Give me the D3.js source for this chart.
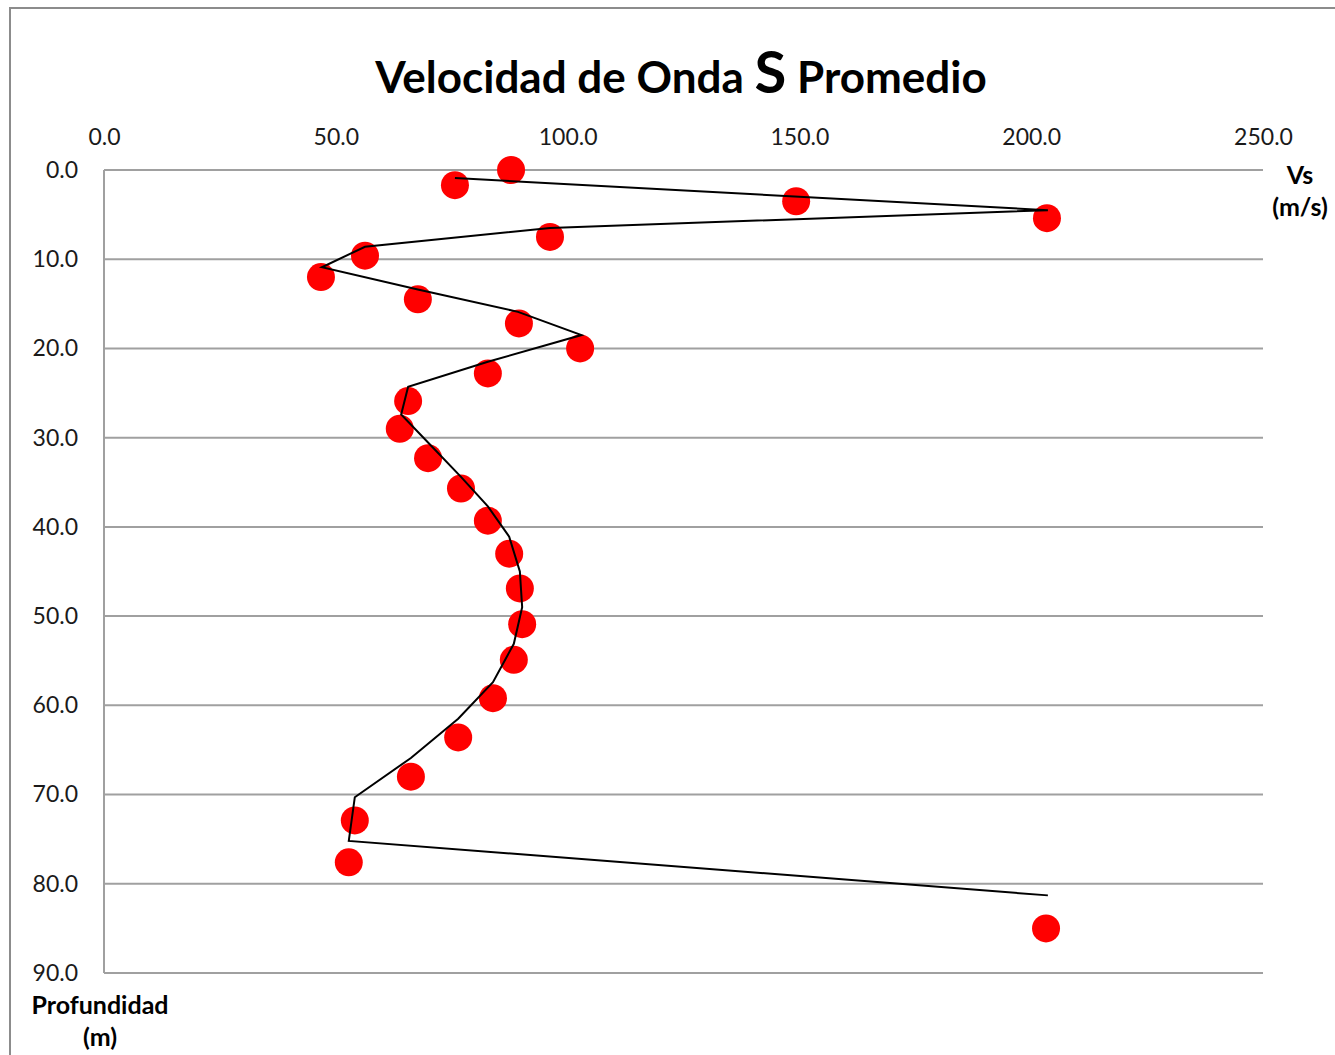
<!DOCTYPE html>
<html>
<head>
<meta charset="utf-8">
<style>
  body { margin: 0; background: #fff; }
  text { font-family: Lato, "Open Sans", sans-serif; }
</style>
<script src="https://d3js.org/d3.v7.min.js"></script>
</head>
<body>
<svg width="1335" height="1055"></svg>
<script>
// Vs promedio por punto (m/s) y profundidad (m)
var vsPoints = [87.8, 75.7, 149.3, 203.4, 96.2, 56.3, 46.8, 67.7, 89.5, 102.7,
  82.8, 65.6, 63.8, 69.9, 77.0, 82.8, 87.4, 89.7, 90.2, 88.4,
  83.9, 76.4, 66.2, 54.1, 52.8, 203.2];
var depthPoints = [0.0, 1.7, 3.5, 5.4, 7.5, 9.6, 12.0, 14.5, 17.2, 20.0,
  22.8, 25.9, 29.0, 32.3, 35.7, 39.3, 43.0, 46.9, 50.9, 54.9,
  59.2, 63.6, 68.0, 72.9, 77.6, 85.0];

// perfil (linea)
var vsLine = [75.7, 203.6, 96.2, 56.3, 47.0, 67.7, 89.3, 103.0, 82.8, 65.6,
  64.1, 70.0, 77.0, 82.8, 87.4, 89.7, 90.2, 88.4, 83.9, 76.4,
  66.2, 54.1, 52.8, 203.6];
var depthLine = [0.9, 4.5, 6.5, 8.6, 10.9, 13.4, 15.9, 18.5, 21.5, 24.3,
  27.4, 30.6, 34.4, 37.7, 41.1, 45.0, 49.0, 53.1, 57.4, 61.5,
  65.9, 70.3, 75.2, 81.3];

var xTicks = [0, 50, 100, 150, 200, 250];
var yTicks = [0, 10, 20, 30, 40, 50, 60, 70, 80, 90];

var svg = d3.select("svg");

// borde del grafico
svg.append("rect")
  .attr("x", 10).attr("y", 8)
  .attr("width", 1400).attr("height", 1100)
  .attr("fill", "none")
  .attr("stroke", "#8c8c8c")
  .attr("stroke-width", 2);

var x = d3.scaleLinear().domain([0, 250]).range([104, 1263]);
var y = d3.scaleLinear().domain([0, 90]).range([170, 973]);

// lineas de cuadricula
svg.append("g")
  .selectAll("line")
  .data(yTicks)
  .enter().append("line")
  .attr("x1", x(0)).attr("x2", x(250))
  .attr("y1", function (d) { return y(d); })
  .attr("y2", function (d) { return y(d); })
  .attr("stroke", "#a0a0a0")
  .attr("stroke-width", 2);

svg.append("line")
  .attr("x1", x(0)).attr("x2", x(0))
  .attr("y1", y(0)).attr("y2", y(90))
  .attr("stroke", "#a0a0a0")
  .attr("stroke-width", 2);

// etiquetas eje x (arriba)
var xAxis = d3.axisTop(x).tickValues(xTicks).tickSize(0).tickPadding(0)
  .tickFormat(d3.format(".1f"));
svg.append("g")
  .attr("transform", "translate(0,145)")
  .call(xAxis)
  .call(function (g) { g.select(".domain").remove(); })
  .selectAll("text")
  .attr("font-family", "Lato, 'Open Sans', sans-serif")
  .attr("font-size", 23)
  .attr("fill", "#1a1a1a");

// etiquetas eje y
var yAxis = d3.axisLeft(y).tickValues(yTicks).tickSize(0).tickPadding(0)
  .tickFormat(d3.format(".1f"));
svg.append("g")
  .attr("transform", "translate(78,0)")
  .call(yAxis)
  .call(function (g) { g.select(".domain").remove(); })
  .selectAll("text")
  .attr("font-family", "Lato, 'Open Sans', sans-serif")
  .attr("font-size", 23)
  .attr("fill", "#1a1a1a");

// puntos
svg.append("g")
  .selectAll("circle")
  .data(vsPoints)
  .enter().append("circle")
  .attr("cx", function (d) { return x(d); })
  .attr("cy", function (d, i) { return y(depthPoints[i]); })
  .attr("r", 14)
  .attr("fill", "#ff0000");

// perfil
var line = d3.line()
  .x(function (d) { return x(d); })
  .y(function (d, i) { return y(depthLine[i]); });
svg.append("path")
  .datum(vsLine)
  .attr("d", line)
  .attr("fill", "none")
  .attr("stroke", "#000")
  .attr("stroke-width", 2);

// titulo
var title = svg.append("text")
  .attr("x", 681).attr("y", 93)
  .attr("text-anchor", "middle")
  .attr("font-weight", "bold")
  .attr("font-size", 44)
  .attr("fill", "#000");
title.append("tspan").text("Velocidad de Onda ");
title.append("tspan").attr("font-size", 58).text("S");
title.append("tspan").text(" Promedio");

// titulos de ejes
var vs = svg.append("text")
  .attr("text-anchor", "middle")
  .attr("font-weight", "bold")
  .attr("font-size", 25)
  .attr("fill", "#000");
vs.append("tspan").attr("x", 1300).attr("y", 184).text("Vs");
vs.append("tspan").attr("x", 1300).attr("y", 216).text("(m/s)");

var prof = svg.append("text")
  .attr("text-anchor", "middle")
  .attr("font-weight", "bold")
  .attr("font-size", 25)
  .attr("fill", "#000");
prof.append("tspan").attr("x", 100).attr("y", 1014).text("Profundidad");
prof.append("tspan").attr("x", 100).attr("y", 1046).text("(m)");
</script>
</body>
</html>
